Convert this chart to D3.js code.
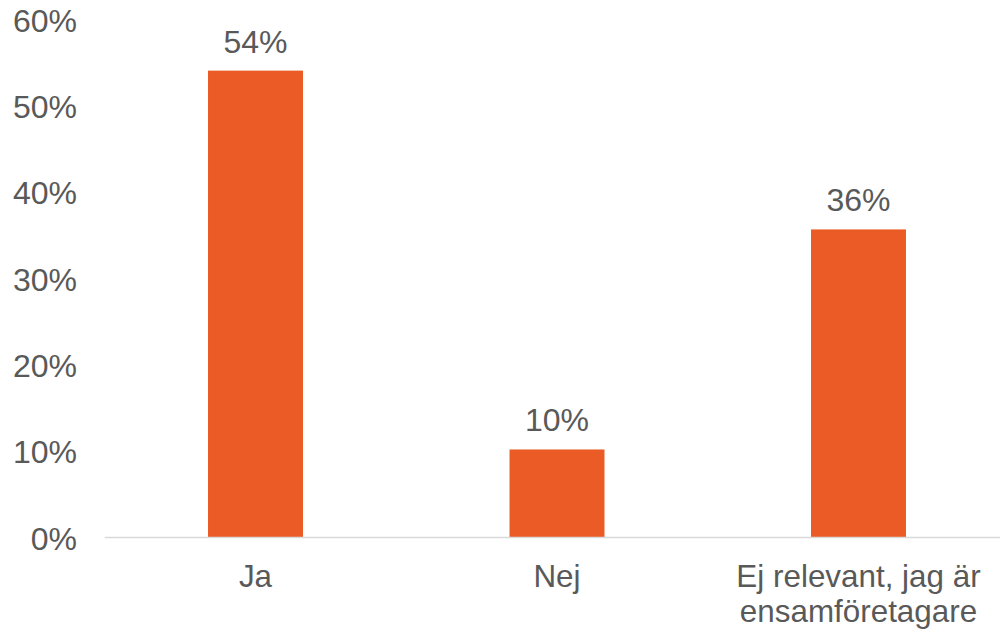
<!DOCTYPE html>
<html>
<head>
<meta charset="utf-8">
<script src="https://cdn.jsdelivr.net/npm/d3@7"></script>
<style>
  body { margin: 0; background: #fff; }
  text { font-family: "Liberation Sans", Arial, sans-serif; fill: #595959; }
</style>
</head>
<body>
<script>
// chart data
var categories = ["Ja", "Nej", "Ej relevant, jag är|ensamföretagare"];
var values = [54.1, 10.2, 35.7];
var yTicks = [0, 10, 20, 30, 40, 50, 60];

var svgWidth = 1000, svgHeight = 629;
var svg = d3.select("body")
            .append("svg")
            .attr("width", svgWidth)
            .attr("height", svgHeight);

// plot area runs a bit past the right edge, like the original
var x = d3.scaleBand()
          .domain(categories)
          .range([104.75, 1009.25])
          .paddingInner(0.685)
          .paddingOuter(0.3425);

var y = d3.scaleLinear()
          .domain([0, 60])
          .range([537.5, 19.7]);

// y tick labels, no axis line
var yAxis = d3.axisLeft(y).tickValues(yTicks).tickSize(0).tickPadding(0)
              .tickFormat(function(d) { return d + "%"; });
var gy = svg.append("g").attr("transform", "translate(77,0)").call(yAxis);
gy.select(".domain").remove();
gy.selectAll("text")
  .attr("dy", "0.36em")
  .style("font-size", "32px")
  .style("font-family", "'Liberation Sans', Arial, sans-serif")
  .attr("fill", "#595959");

// bars
svg.selectAll("rect.bar")
   .data(values)
   .enter()
   .append("rect")
   .attr("class", "bar")
   .attr("x", function(d, i) { return x(categories[i]); })
   .attr("y", function(d) { return y(d); })
   .attr("width", x.bandwidth())
   .attr("height", function(d) { return y(0) - y(d); })
   .attr("fill", "#EB5B25");

// baseline
svg.append("line")
   .attr("x1", 104.75).attr("x2", 1009.25)
   .attr("y1", y(0)).attr("y2", y(0))
   .attr("stroke", "#d9d9d9")
   .attr("stroke-width", 1.5);

// value labels
svg.selectAll("text.val")
   .data(values)
   .enter()
   .append("text")
   .attr("class", "val")
   .attr("x", function(d, i) { return x(categories[i]) + x.bandwidth() / 2; })
   .attr("y", function(d) { return y(d) - 18; })
   .attr("text-anchor", "middle")
   .style("font-size", "32px")
   .text(function(d) { return Math.round(d) + "%"; });

// category labels, "|" splits lines
var cat = svg.selectAll("text.cat")
   .data(categories)
   .enter()
   .append("text")
   .attr("class", "cat")
   .attr("text-anchor", "middle")
   .style("font-size", "31.4px")
   .attr("transform", function(d) { return "translate(" + (x(d) + x.bandwidth() / 2) + ",587)"; });
cat.selectAll("tspan")
   .data(function(d) { return d.split("|"); })
   .enter()
   .append("tspan")
   .attr("x", 0)
   .attr("y", function(d, i) { return i * 35; })
   .text(function(d) { return d; });
</script>
</body>
</html>
